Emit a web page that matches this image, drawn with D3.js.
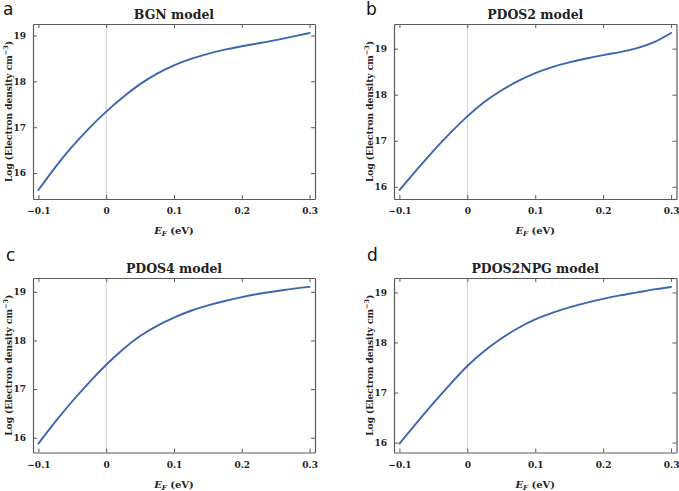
<!DOCTYPE html>
<html>
<head>
<meta charset="utf-8">
<script src="https://cdn.jsdelivr.net/npm/d3@7"></script>
<style>
  html, body { margin: 0; padding: 0; background: #fff; }
  svg { display: block; }
</style>
</head>
<body>
<div id="chart"></div>
<script>
// ---- data ----
const energies = [-0.1, -0.075, -0.05, -0.025, 0, 0.025, 0.05, 0.075, 0.1, 0.125, 0.15, 0.175, 0.2, 0.225, 0.25, 0.275, 0.3];
const bgnValues      = [15.63, 16.13, 16.58, 16.98, 17.34, 17.66, 17.94, 18.17, 18.35, 18.49, 18.60, 18.69, 18.765, 18.83, 18.90, 18.975, 19.055];
const pdos2Values    = [15.93, 16.36, 16.78, 17.17, 17.53, 17.84, 18.09, 18.30, 18.47, 18.60, 18.70, 18.785, 18.86, 18.925, 19.01, 19.14, 19.34];
const pdos4Values    = [15.88, 16.33, 16.75, 17.14, 17.50, 17.82, 18.09, 18.30, 18.47, 18.61, 18.72, 18.81, 18.89, 18.96, 19.01, 19.06, 19.10];
const pdos2npgValues = [15.98, 16.39, 16.79, 17.17, 17.53, 17.83, 18.08, 18.29, 18.46, 18.59, 18.70, 18.79, 18.87, 18.94, 19.00, 19.06, 19.11];
const panelTitles  = ["BGN model", "PDOS2 model", "PDOS4 model", "PDOS2NPG model"];
const panelLetters = ["a", "b", "c", "d"];
const xTicks = [-0.1, 0, 0.1, 0.2, 0.3];
const xTickLabels = ["\u22120.1", "0", "0.1", "0.2", "0.3"];
const yTicks = [16, 17, 18, 19];

// ---- layout ----
const W = 679, H = 491;
const boxes = [
  {l: 33,  r: 315,   t: 24,  b: 199},
  {l: 394, r: 676.5, t: 24,  b: 199},
  {l: 33,  r: 315,   t: 278, b: 452.5},
  {l: 394, r: 676.5, t: 278, b: 452.5}
];
const letterPos = [[3, 15], [366, 15], [6, 261], [367, 261]];
const seriesList = [bgnValues, pdos2Values, pdos4Values, pdos2npgValues];

const lineColor = "#3b66b0";
const frameColor = "#5a5a5a";
const serif = "'DejaVu Serif', 'Liberation Serif', serif";

const svg = d3.select("#chart").append("svg")
  .attr("width", W).attr("height", H)
  .attr("viewBox", `0 0 ${W} ${H}`);

seriesList.forEach((vals, i) => {
  const bx = boxes[i];
  const lo = d3.min(vals), hi = d3.max(vals);
  const pad = (hi - lo) * 0.057;
  const x = d3.scaleLinear().domain([-0.108, 0.308]).range([bx.l, bx.r]);
  const y = d3.scaleLinear().domain([lo - pad, hi + pad]).range([bx.b, bx.t]);
  const g = svg.append("g");

  // zero line
  g.append("line")
    .attr("x1", x(0)).attr("x2", x(0))
    .attr("y1", bx.t).attr("y2", bx.b)
    .attr("stroke", "#cfcfcf").attr("stroke-width", 1);

  // curve
  const line = d3.line()
    .x((d, k) => x(energies[k]))
    .y(d => y(d))
    .curve(d3.curveNatural);
  g.append("path")
    .datum(vals)
    .attr("d", line)
    .attr("fill", "none")
    .attr("stroke", lineColor)
    .attr("stroke-width", 1.9)
    .attr("stroke-linecap", "round");

  // axes (ticks inward on all four sides)
  const tickStyle = sel => {
    sel.select(".domain").attr("stroke", frameColor).attr("stroke-width", 1.2);
    sel.selectAll(".tick line").attr("stroke", frameColor).attr("stroke-width", 1);
    sel.selectAll("text").attr("font-family", serif).attr("font-weight", "bold")
      .attr("font-size", 9).attr("fill", "#222");
  };
  g.append("g").attr("transform", `translate(0,${bx.b})`)
    .call(d3.axisBottom(x).tickValues(xTicks).tickSizeInner(-4).tickSizeOuter(0)
      .tickPadding(9).tickFormat((d, k) => xTickLabels[k]))
    .call(tickStyle);
  g.append("g").attr("transform", `translate(0,${bx.t})`)
    .call(d3.axisTop(x).tickValues(xTicks).tickSizeInner(-4).tickSizeOuter(0).tickFormat(""))
    .call(tickStyle);
  g.append("g").attr("transform", `translate(${bx.l},0)`)
    .call(d3.axisLeft(y).tickValues(yTicks).tickSizeInner(-4).tickSizeOuter(0)
      .tickPadding(7).tickFormat(d3.format("d")))
    .call(tickStyle);
  g.append("g").attr("transform", `translate(${bx.r},0)`)
    .call(d3.axisRight(y).tickValues(yTicks).tickSizeInner(-4).tickSizeOuter(0).tickFormat(""))
    .call(tickStyle);

  // title
  const cx = (bx.l + bx.r) / 2;
  g.append("text")
    .attr("x", cx).attr("y", bx.t - 5)
    .attr("text-anchor", "middle")
    .attr("font-family", serif).attr("font-weight", "bold").attr("font-size", 12.5)
    .attr("fill", "#222")
    .text(panelTitles[i]);

  // x axis title
  const xt = g.append("text")
    .attr("x", cx).attr("y", bx.b + 35)
    .attr("text-anchor", "middle")
    .attr("font-family", serif).attr("font-weight", "bold").attr("font-size", 10)
    .attr("fill", "#222");
  xt.append("tspan").attr("font-style", "italic").text("E");
  xt.append("tspan").attr("font-style", "italic").attr("font-size", 7).attr("dy", 2).text("F");
  xt.append("tspan").attr("dy", -2).text(" (eV)");

  // y axis title
  const yx = bx.l - 21;
  const yy = (bx.t + bx.b) / 2;
  const yt = g.append("text")
    .attr("transform", `translate(${yx},${yy}) rotate(-90)`)
    .attr("text-anchor", "middle")
    .attr("font-family", serif).attr("font-weight", "bold").attr("font-size", 9)
    .attr("fill", "#222");
  yt.append("tspan").text("Log (Electron density cm");
  yt.append("tspan").attr("font-size", 6.5).attr("dy", -4).text("\u22123");
  yt.append("tspan").attr("dy", 4).text(")");

  // panel letter
  svg.append("text")
    .attr("x", letterPos[i][0]).attr("y", letterPos[i][1])
    .attr("font-family", "'DejaVu Sans', 'Open Sans', sans-serif")
    .attr("font-size", 17).attr("fill", "#111")
    .text(panelLetters[i]);
});
</script>
</body>
</html>
